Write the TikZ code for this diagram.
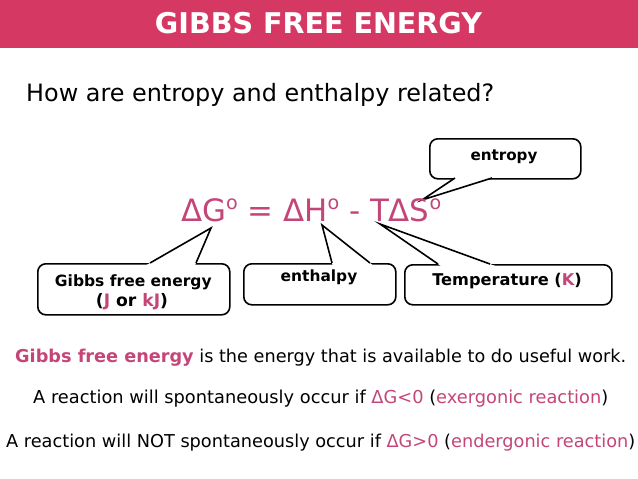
\documentclass[tikz,border=0pt]{standalone}
\usepackage{fontspec}
\setmainfont{DejaVu Sans}
\usepackage{graphicx}
\usetikzlibrary{calc}
\definecolor{barred}{RGB}{214,56,100}
\definecolor{eqpink}{RGB}{196,70,120}
\newcommand{\dego}{\raisebox{0.37em}{\scalebox{0.62}{o}}}
\begin{document}
\begin{tikzpicture}[x=1pt,y=-1pt,
  callbox/.style={draw=black, line width=1.6pt, rounded corners=8pt, fill=white, inner sep=0pt, anchor=north west},
  ptr/.style={draw=black, line width=1.6pt, line join=miter},
  txt/.style={inner sep=0pt, anchor=base west},
  btxt/.style={inner sep=0pt, anchor=base, font=\bfseries}]
\useasboundingbox (0,0) rectangle (638,479);
\fill[white] (0,0) rectangle (638,479);
\fill[barred] (0,0) rectangle (638,47.5);
\node[btxt, text=white] (title) at (318.5,34) {\resizebox{327pt}{!}{GIBBS FREE ENERGY}};
\node[txt] (question) at (26,101) {\resizebox{468pt}{!}{How are entropy and enthalpy related?}};

% boxes
\node[callbox, minimum width=151pt, minimum height=40pt] (entbox) at (429,138) {};
\node[callbox, minimum width=192pt, minimum height=51pt] (gibbsbox) at (37,263) {};
\node[callbox, minimum width=152pt, minimum height=41pt] (enthbox) at (243,263) {};
\node[callbox, minimum width=207pt, minimum height=40pt] (tempbox) at (404,264) {};

% pointer coordinates
\coordinate (enttip) at (422,200);
\coordinate (entL) at (455,178);
\coordinate (entR) at (492,178);
\coordinate (gibtip) at (211,228);
\coordinate (gibL) at (150,263);
\coordinate (gibR) at (196,263);
\coordinate (enhtip) at (322,225);
\coordinate (enhL) at (332,263);
\coordinate (enhR) at (370,263);
\coordinate (tmptip) at (380,224);
\coordinate (tmpL) at (438,264);
\coordinate (tmpR) at (490,264);

\foreach \p in {ent,gib,enh,tmp}{
  \fill[white] (\p tip) -- ($(\p tip)!1.12!(\p L)$) -- ($(\p tip)!1.12!(\p R)$) -- cycle;
  \draw[ptr] (\p L) -- (\p tip) -- (\p R);
}

% labels
\node[btxt] (entlbl) at (504,160.7) {\resizebox{67pt}{!}{entropy}};
\node[btxt] (gibbslbl1) at (133.3,286) {\resizebox{156.7pt}{!}{Gibbs free energy}};
\node[btxt] (gibbslbl2) at (132,306) {\resizebox{72pt}{!}{(\textcolor{eqpink}{J} or \textcolor{eqpink}{kJ})}};
\node[btxt] (enthlbl) at (319,281.7) {\resizebox{76.6pt}{!}{enthalpy}};
\node[btxt] (templbl) at (507,285) {\resizebox{149.4pt}{!}{Temperature (\textcolor{eqpink}{K})}};

% equation
\node[txt, text=eqpink] (eq) at (181,221) {\resizebox{260pt}{!}{ΔG\dego{} = ΔH\dego{} - TΔS\dego}};

% bottom text
\node[txt] (def) at (15,362) {\resizebox{611pt}{!}{\textcolor{eqpink}{\bfseries Gibbs free energy} is the energy that is available to do useful work.}};
\node[txt] (exer) at (33,403) {\resizebox{575pt}{!}{A reaction will spontaneously occur if \textcolor{eqpink}{ΔG<0} (\textcolor{eqpink}{exergonic reaction})}};
\node[txt] (ender) at (6,447) {\resizebox{629pt}{!}{A reaction will NOT spontaneously occur if \textcolor{eqpink}{ΔG>0} (\textcolor{eqpink}{endergonic reaction})}};
\end{tikzpicture}
\end{document}
